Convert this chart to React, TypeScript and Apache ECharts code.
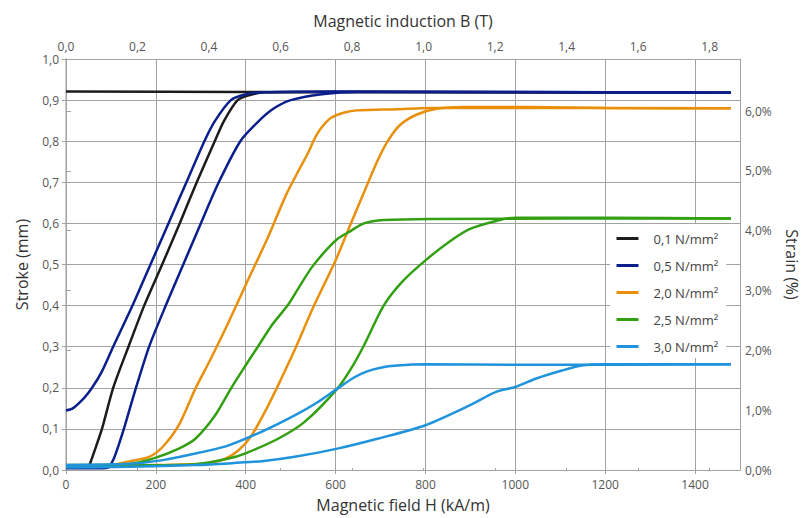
import React, { useEffect, useRef } from "react";
import * as echarts from "echarts";

// Stroke (mm) versus magnetic field H (kA/m); each load has a rising and a falling branch
const load01Return: number[][] = [[0, 0.921], [400, 0.92], [1000, 0.919], [1480, 0.918]];
const load01Rise: number[][] = [
  [50, 0.006], [55, 0.02], [80, 0.1], [105, 0.2], [139, 0.3], [174, 0.4], [214, 0.5],
  [253, 0.6], [291, 0.7], [331, 0.8], [352, 0.85], [382, 0.9], [412, 0.913], [441, 0.919],
  [600, 0.92], [1480, 0.918],
];
const load05Return: number[][] = [
  [0, 0.145], [15, 0.15], [40, 0.175], [58, 0.2], [80, 0.24], [105, 0.3], [148, 0.4],
  [188, 0.5], [228, 0.6], [268, 0.7], [308, 0.8], [332, 0.85], [367, 0.9], [397, 0.913],
  [441, 0.919], [600, 0.921], [1480, 0.918],
];
const load05Rise: number[][] = [
  [0, 0.004], [60, 0.004], [94, 0.006], [106, 0.027], [117, 0.06], [131, 0.108], [153, 0.19],
  [185, 0.3], [222, 0.4], [261, 0.5], [300, 0.6], [340, 0.7], [388, 0.8], [430, 0.85],
  [463, 0.88], [500, 0.9], [574, 0.915], [648, 0.92], [1000, 0.92], [1480, 0.918],
];
const load20Return: number[][] = [
  [0, 0.01], [100, 0.012], [141, 0.021], [185, 0.032], [215, 0.056], [251, 0.109],
  [288, 0.198], [322, 0.27], [362, 0.36], [404, 0.46], [447, 0.56], [490, 0.67], [516, 0.725],
  [538, 0.77], [555, 0.81], [570, 0.835], [590, 0.857], [620, 0.87], [648, 0.875],
  [736, 0.878], [810, 0.881], [1000, 0.881], [1480, 0.88],
];
const load20Rise: number[][] = [
  [0, 0.008], [200, 0.012], [300, 0.015], [347, 0.024], [384, 0.048], [413, 0.084],
  [450, 0.157], [479, 0.222], [508, 0.29], [552, 0.4], [600, 0.51], [634, 0.6], [663, 0.675],
  [693, 0.752], [717, 0.802], [744, 0.84], [781, 0.865], [825, 0.879], [884, 0.883],
  [1031, 0.883], [1200, 0.881], [1480, 0.88],
];
const load25Return: number[][] = [
  [0, 0.012], [100, 0.013], [150, 0.016], [200, 0.03], [251, 0.052], [288, 0.076],
  [332, 0.133], [368, 0.2], [400, 0.255], [427, 0.3], [460, 0.355], [493, 0.4], [516, 0.44],
  [545, 0.49], [575, 0.53], [604, 0.562], [634, 0.582], [663, 0.6], [707, 0.608],
  [810, 0.611], [1480, 0.612],
];
const load25Rise: number[][] = [
  [0, 0.01], [150, 0.011], [288, 0.014], [362, 0.028], [398, 0.04], [472, 0.076],
  [531, 0.117], [604, 0.198], [634, 0.246], [663, 0.303], [707, 0.4], [750, 0.46],
  [800, 0.51], [850, 0.553], [898, 0.586], [957, 0.606], [1000, 0.614], [1200, 0.614],
  [1480, 0.612],
];
const load30Return: number[][] = [
  [0, 0.012], [141, 0.015], [215, 0.024], [288, 0.04], [362, 0.06], [435, 0.093],
  [509, 0.133], [560, 0.165], [604, 0.198], [641, 0.225], [670, 0.24], [700, 0.249],
  [737, 0.254], [800, 0.257], [1000, 0.256], [1480, 0.257],
];
const load30Rise: number[][] = [
  [0, 0.006], [141, 0.008], [288, 0.012], [362, 0.016], [440, 0.022], [509, 0.032],
  [604, 0.052], [693, 0.076], [800, 0.109], [898, 0.157], [957, 0.19], [1000, 0.202],
  [1045, 0.222], [1104, 0.242], [1148, 0.254], [1200, 0.257], [1480, 0.257],
];

const loadNames = ["0,1 N/mm²", "0,5 N/mm²", "2,0 N/mm²", "2,5 N/mm²", "3,0 N/mm²"];
const loadColors = ["#1c1c1c", "#0b1f8c", "#e8900c", "#32a012", "#1f93dc"];
const loadCurves = [
  [load01Return, load01Rise],
  [load05Return, load05Rise],
  [load20Return, load20Rise],
  [load25Return, load25Rise],
  [load30Return, load30Rise],
];

// Axis extents
const H_MAX = 1500; // kA/m
const B_MAX = 4e-7 * Math.PI * H_MAX * 1000; // T, B = mu0 * H
const STRAIN_MAX = 6.87; // % at 1.0 mm stroke

const comma = (v: number, d: number) => v.toFixed(d).replace(".", ",");

const FONT = "'Open Sans', 'DejaVu Sans', sans-serif";
const GRID = "#a2a2a2";
const LABEL = "#555";
const NAME = "#333";

export default function App() {
  const ref = useRef<HTMLDivElement>(null);

  useEffect(() => {
    if (!ref.current) return;
    const chart = echarts.init(ref.current, undefined, { renderer: "svg" });

    const series: any[] = [];
    loadCurves.forEach((pair, i) => {
      pair.forEach((curve) => {
        series.push({
          type: "line",
          name: loadNames[i],
          data: curve,
          xAxisIndex: 0,
          yAxisIndex: 0,
          showSymbol: false,
          symbol: "none",
          smooth: 0.25,
          lineStyle: { color: loadColors[i], width: 2.5 },
          itemStyle: { color: loadColors[i] },
          z: 2 + i,
        });
      });
    });

    chart.setOption({
      animation: false,
      textStyle: { fontFamily: FONT },
      grid: { left: 66, right: 62, top: 59, bottom: 47, containLabel: false },
      legend: {
        orient: "vertical",
        left: 610,
        top: 224,
        data: loadNames,
        itemWidth: 22,
        itemHeight: 14,
        itemGap: 14,
        padding: [8, 8, 5, 5],
        backgroundColor: "#ffffff",
        itemStyle: { opacity: 0 },
        lineStyle: { width: 3 },
        textStyle: { fontFamily: FONT, fontSize: 13, color: "#444", padding: [0, 0, 0, 10] },
      },
      xAxis: [
        {
          type: "value",
          position: "bottom",
          min: 0,
          max: H_MAX,
          interval: 200,
          name: "Magnetic field H (kA/m)",
          nameLocation: "middle",
          nameGap: 27,
          nameTextStyle: { fontFamily: FONT, fontSize: 16, color: NAME },
          axisLine: { show: true, lineStyle: { color: GRID, width: 1 } },
          axisTick: { show: true, length: 4, lineStyle: { color: GRID } },
          axisLabel: {
            fontFamily: FONT,
            fontSize: 12,
            color: LABEL,
            margin: 8,
            showMaxLabel: false,
            formatter: (v: number) => String(Math.round(v)),
          },
          splitLine: { show: true, lineStyle: { color: GRID, width: 1 } },
        },
        {
          type: "value",
          position: "top",
          min: 0,
          max: B_MAX,
          interval: 0.2,
          name: "Magnetic induction B (T)",
          nameLocation: "middle",
          nameGap: 30,
          nameTextStyle: { fontFamily: FONT, fontSize: 16, color: NAME },
          axisLine: { show: true, lineStyle: { color: GRID, width: 1 } },
          axisTick: { show: true, length: 2, lineStyle: { color: GRID } },
          axisLabel: {
            fontFamily: FONT,
            fontSize: 12,
            color: LABEL,
            margin: 7,
            showMaxLabel: false,
            formatter: (v: number) => comma(v, 1),
          },
          splitLine: { show: false },
        },
      ],
      yAxis: [
        {
          type: "value",
          position: "left",
          min: 0,
          max: 1,
          interval: 0.1,
          name: "Stroke (mm)",
          nameLocation: "middle",
          nameGap: 36,
          nameRotate: 90,
          nameTextStyle: { fontFamily: FONT, fontSize: 16, color: NAME },
          axisLine: { show: true, lineStyle: { color: "#bdbdbd", width: 1.5 } },
          axisTick: { show: true, length: 4, lineStyle: { color: GRID } },
          axisLabel: {
            fontFamily: FONT,
            fontSize: 12,
            color: LABEL,
            margin: 7,
            formatter: (v: number) => comma(v, 1),
          },
          splitLine: { show: true, lineStyle: { color: GRID, width: 1 } },
        },
        {
          type: "value",
          position: "right",
          min: 0,
          max: STRAIN_MAX,
          interval: 1,
          name: "Strain (%)",
          nameLocation: "middle",
          nameGap: 44,
          nameRotate: -90,
          nameTextStyle: { fontFamily: FONT, fontSize: 16, color: NAME },
          axisLine: { show: true, lineStyle: { color: GRID, width: 1 } },
          axisTick: { show: true, length: 5, lineStyle: { color: GRID } },
          axisLabel: {
            fontFamily: FONT,
            fontSize: 12,
            color: LABEL,
            margin: 5,
            showMaxLabel: false,
            formatter: (v: number) => comma(v, 1) + "%",
          },
          splitLine: { show: false },
        },
      ],
      series,
    });

    return () => chart.dispose();
  }, []);

  return (
    <div
      ref={ref}
      style={{ position: "absolute", left: 0, top: 0, width: 808, height: 518 }}
    />
  );
}
